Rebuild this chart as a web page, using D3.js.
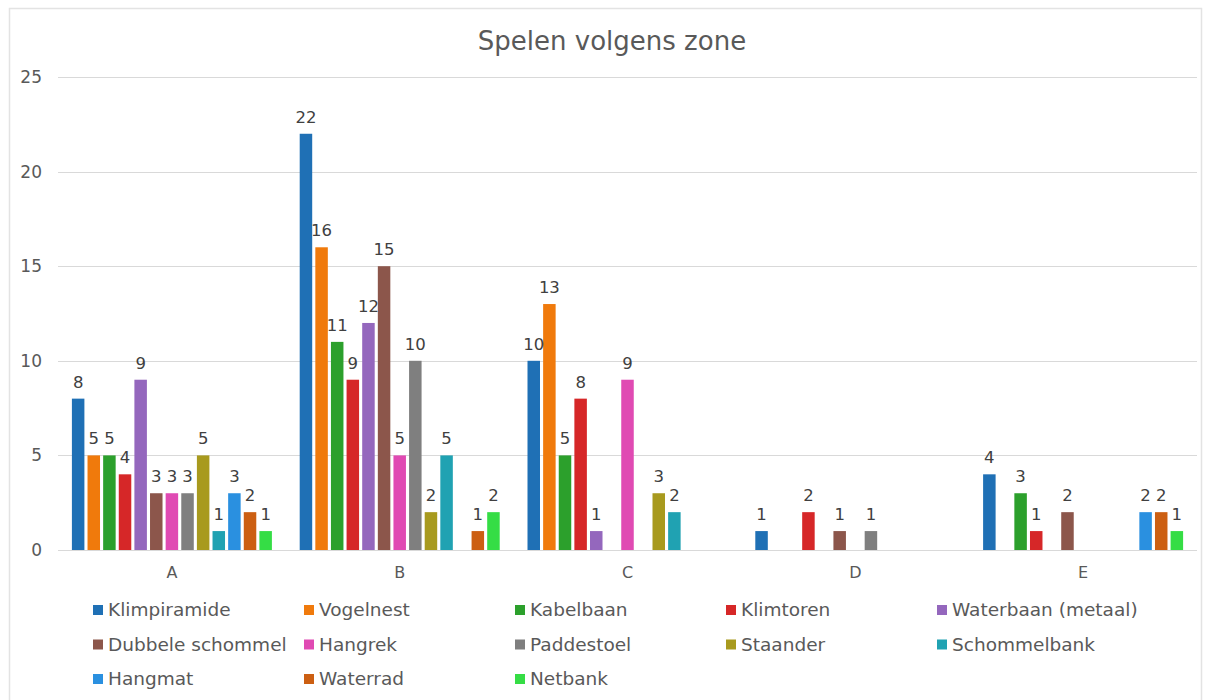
<!DOCTYPE html>
<html>
<head>
<meta charset="utf-8">
<script src="https://cdn.jsdelivr.net/npm/d3@7/dist/d3.min.js"></script>
<style>
  html, body { margin: 0; padding: 0; background: #ffffff; }
  svg { display: block; font-family: "DejaVu Sans", Verdana, sans-serif; }
</style>
</head>
<body>
<svg id="chart" width="1213" height="700"></svg>
<script>
// Zones on the x axis
const zones = ["A", "B", "C", "D", "E"];

// Play equipment (one bar series each)
const equipment = [
  "Klimpiramide", "Vogelnest", "Kabelbaan", "Klimtoren", "Waterbaan (metaal)",
  "Dubbele schommel", "Hangrek", "Paddestoel", "Staander", "Schommelbank",
  "Hangmat", "Waterrad", "Netbank"
];

const colors = [
  "#1f70b5", "#f07a0c", "#2ca02c", "#d62728", "#9467bd",
  "#8c564b", "#e04ab3", "#7f7f7f", "#a89a1e", "#20a2b2",
  "#2a90e0", "#cc5f12", "#35dd45"
];

// Counts per equipment, in zone order A..E (null = not present)
const klimpiramide    = [8, 22, 10, 1, 4];
const vogelnest       = [5, 16, 13, null, null];
const kabelbaan       = [5, 11, 5, null, 3];
const klimtoren       = [4, 9, 8, 2, 1];
const waterbaan       = [9, 12, 1, null, null];
const dubbeleSchommel = [3, 15, null, 1, 2];
const hangrek         = [3, 5, 9, null, null];
const paddestoel      = [3, 10, null, 1, null];
const staander        = [5, 2, 3, null, null];
const schommelbank    = [1, 5, 2, null, null];
const hangmat         = [3, null, null, null, 2];
const waterrad        = [2, 1, null, null, 2];
const netbank         = [1, 2, null, null, 1];

const seriesValues = [
  klimpiramide, vogelnest, kabelbaan, klimtoren, waterbaan,
  dubbeleSchommel, hangrek, paddestoel, staander, schommelbank,
  hangmat, waterrad, netbank
];

const yTicks = [0, 5, 10, 15, 20, 25];

const svg = d3.select("#chart");

// Chart frame
svg.append("rect")
  .attr("x", 9.5).attr("y", 8.5)
  .attr("width", 1192).attr("height", 700)
  .attr("fill", "#ffffff")
  .attr("stroke", "#e3e3e3").attr("stroke-width", 1.5);

// Title
svg.append("text")
  .attr("x", 612).attr("y", 50)
  .attr("text-anchor", "middle")
  .attr("font-size", 26)
  .attr("fill", "#595959")
  .text("Spelen volgens zone");

const plot = { left: 58, right: 1197, top: 77, bottom: 550 };

const x0 = d3.scaleBand().domain(zones).range([plot.left, plot.right]).padding(0);
const groupPad = (x0.bandwidth() - 200) / 2;
const x1 = d3.scaleBand().domain(equipment)
  .range([groupPad, x0.bandwidth() - groupPad]).paddingInner(0.2);
const y = d3.scaleLinear().domain([0, 25]).range([plot.bottom, plot.top]);

// Gridlines
svg.append("g")
  .selectAll("line")
  .data(yTicks)
  .join("line")
  .attr("x1", plot.left).attr("x2", plot.right)
  .attr("y1", d => Math.round(y(d)) + 0.5).attr("y2", d => Math.round(y(d)) + 0.5)
  .attr("stroke", "#d9d9d9").attr("stroke-width", 1.2);

// Y axis labels
const yAxis = d3.axisLeft(y).tickValues(yTicks).tickSize(0).tickPadding(0);
const gy = svg.append("g").attr("transform", `translate(${plot.left - 16},0)`).call(yAxis);
gy.select(".domain").remove();
gy.selectAll("text")
  .attr("font-family", "DejaVu Sans, Verdana, sans-serif")
  .attr("font-size", 17).attr("fill", "#595959");

// X axis labels
const xAxis = d3.axisBottom(x0).tickSize(0).tickPadding(0);
const gx = svg.append("g").attr("transform", `translate(0,${plot.bottom + 17})`).call(xAxis);
gx.select(".domain").remove();
gx.selectAll("text")
  .attr("font-family", "DejaVu Sans, Verdana, sans-serif")
  .attr("font-size", 16).attr("fill", "#595959");

// Bars and value labels
const bars = [];
equipment.forEach((name, si) => {
  seriesValues[si].forEach((v, zi) => {
    if (v !== null) bars.push({ zone: zones[zi], name, value: v, color: colors[si] });
  });
});

const gBars = svg.append("g");
gBars.selectAll("rect")
  .data(bars)
  .join("rect")
  .attr("x", d => x0(d.zone) + x1(d.name))
  .attr("y", d => y(d.value))
  .attr("width", x1.bandwidth())
  .attr("height", d => y(0) - y(d.value))
  .attr("fill", d => d.color);

gBars.selectAll("text")
  .data(bars)
  .join("text")
  .attr("x", d => x0(d.zone) + x1(d.name) + x1.bandwidth() / 2)
  .attr("y", d => y(d.value) - 11)
  .attr("text-anchor", "middle")
  .attr("font-size", 16.5)
  .attr("fill", "#404040")
  .text(d => d.value);

// Legend: 5 columns, 3 rows
const legend = svg.append("g");
const legendItems = legend.selectAll("g")
  .data(equipment)
  .join("g")
  .attr("transform", (d, i) => `translate(${93 + (i % 5) * 211},${616 + Math.floor(i / 5) * 34.5})`);
legendItems.append("rect")
  .attr("x", 0).attr("y", -11)
  .attr("width", 10).attr("height", 10)
  .attr("fill", (d, i) => colors[i]);
legendItems.append("text")
  .attr("x", 15).attr("y", 0)
  .attr("font-size", 18.5)
  .attr("fill", "#595959")
  .text(d => d);
</script>
</body>
</html>
